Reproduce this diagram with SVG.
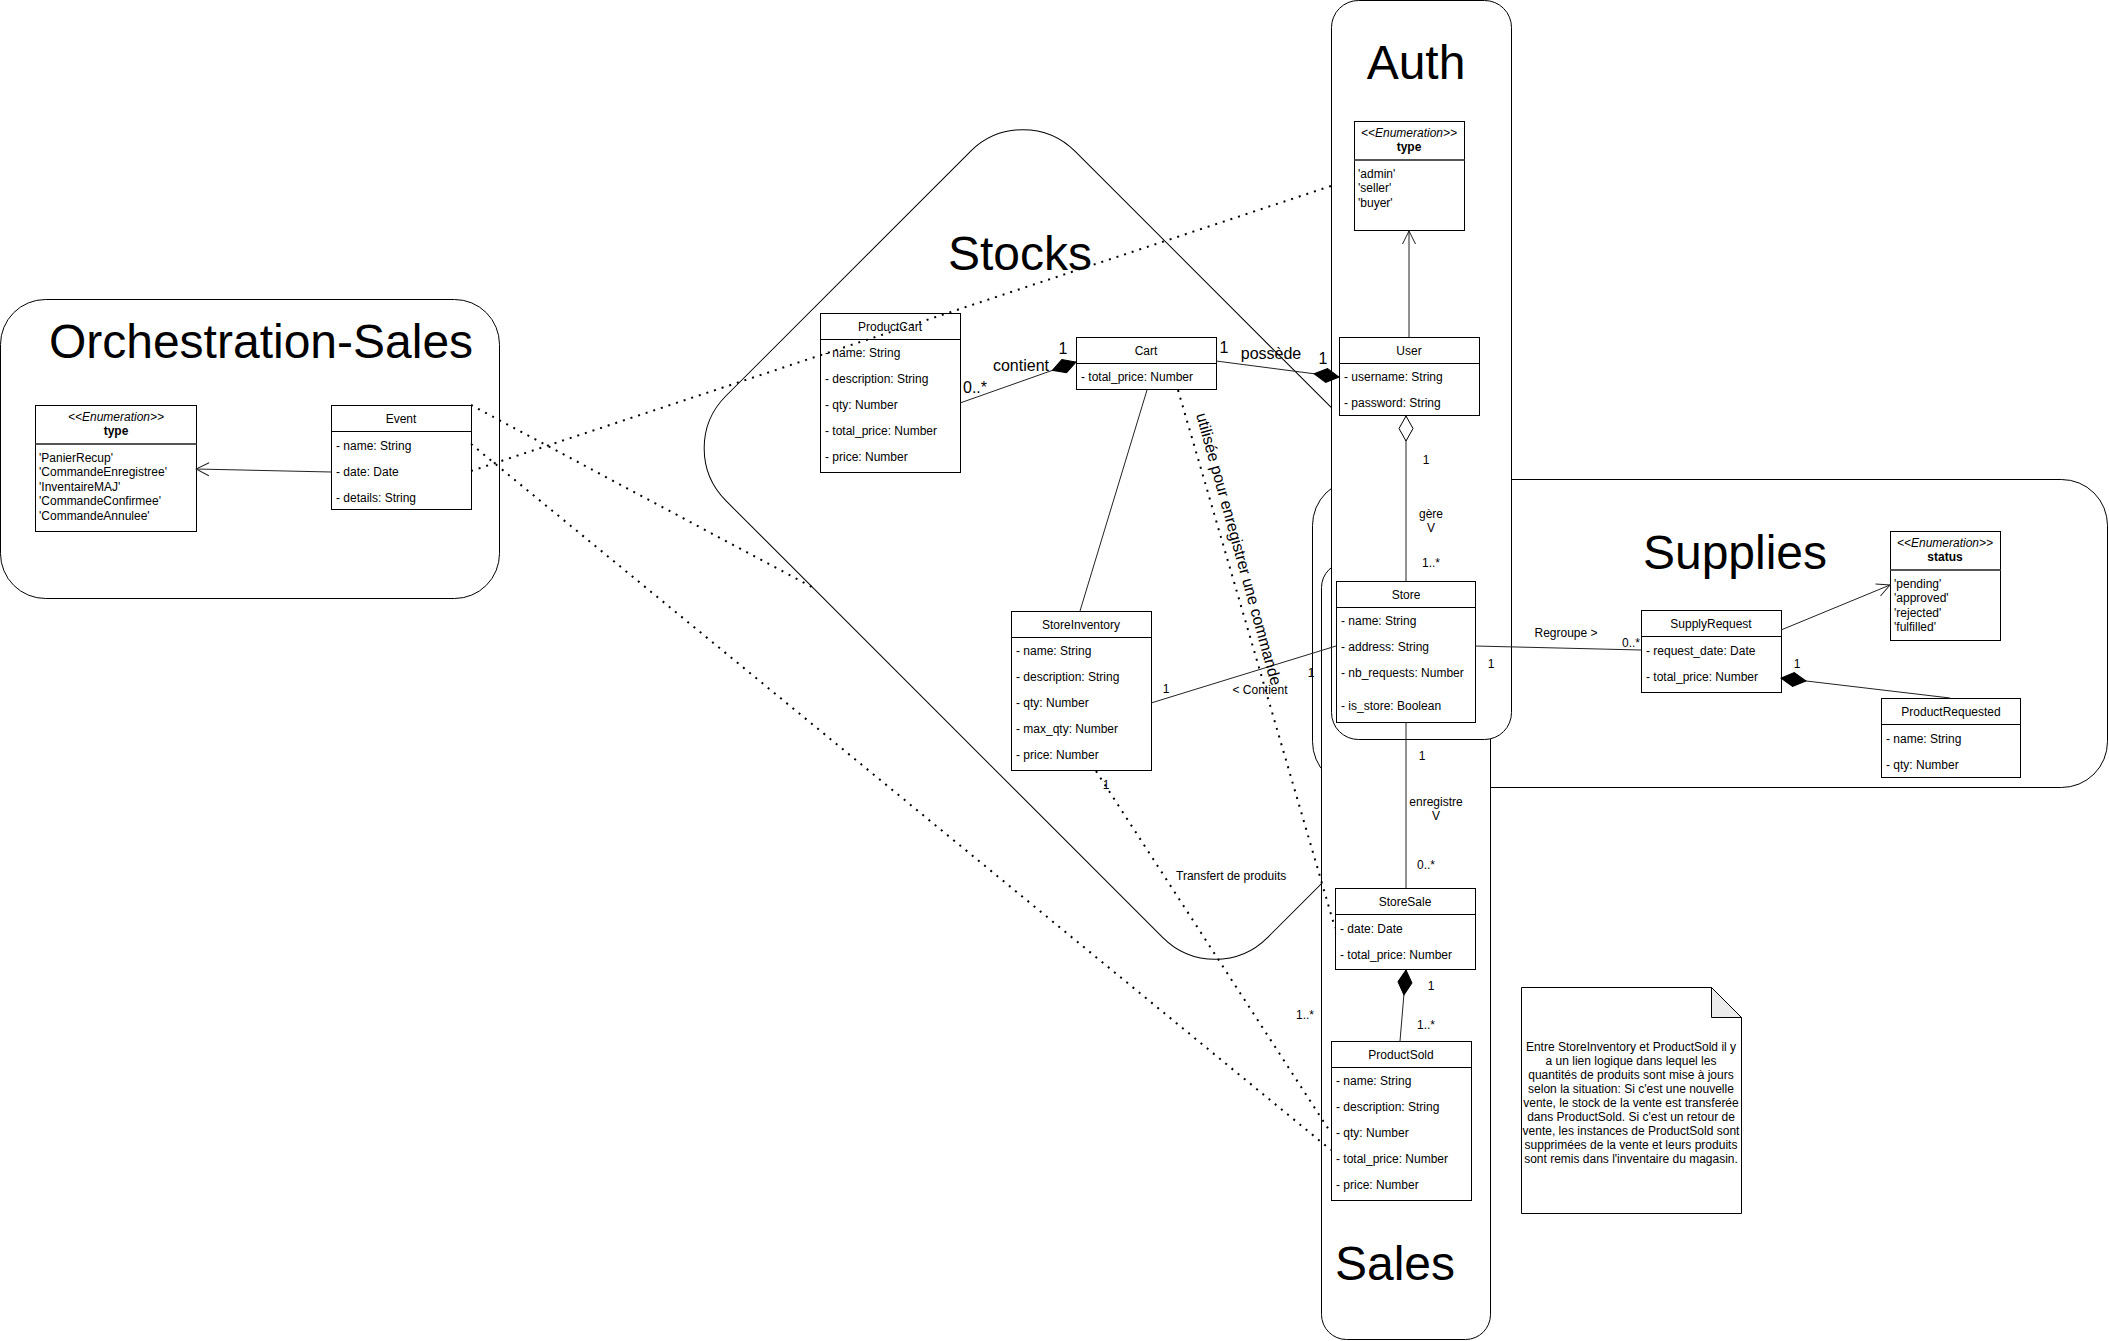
<svg xmlns="http://www.w3.org/2000/svg" width="2109" height="1341" viewBox="0 0 2109 1341">
<style>
text{font-family:"Liberation Sans",Arial,sans-serif;font-size:12px;fill:#000}
.c{text-anchor:middle}
.b{font-weight:bold}
.i{font-style:italic}
.ttl{font-size:48px;text-anchor:middle}
.l16{font-size:16px}
.ctr{fill:#fff;stroke:#000;stroke-width:1}
.box{fill:#fff;stroke:#000;stroke-width:1}
.sep{stroke:#000;stroke-width:1}
.esep{stroke:#555;stroke-width:2}
.e{fill:none;stroke:#222;stroke-width:1}
.d{fill:none;stroke:#000;stroke-width:2;stroke-dasharray:2 6}
</style>
<defs>
<marker id="arrOpen" markerUnits="userSpaceOnUse" markerWidth="16" markerHeight="16" viewBox="0 0 16 16" refX="15" refY="8" orient="auto"><path d="M2,1.5 L15,8 L2,14.5" fill="none" stroke="#222" stroke-width="1"/></marker>
<marker id="diaF" markerUnits="userSpaceOnUse" markerWidth="27" markerHeight="16" viewBox="0 0 27 16" refX="26" refY="8" orient="auto"><path d="M1,8 L13.5,1 L26,8 L13.5,15 Z" fill="#000" stroke="#000" stroke-width="1"/></marker>
<marker id="diaH" markerUnits="userSpaceOnUse" markerWidth="27" markerHeight="16" viewBox="0 0 27 16" refX="26" refY="8" orient="auto"><path d="M1,8 L13.5,1 L26,8 L13.5,15 Z" fill="#fff" stroke="#000" stroke-width="1"/></marker>
</defs>
<rect width="2109" height="1341" fill="#fff"/>

<!-- containers -->
<g id="orchestration-sales">
<rect class="ctr" x="0.5" y="299.5" width="499" height="299" rx="45"/>
<text class="ttl" x="261" y="358">Orchestration-Sales</text>
</g>
<g id="stocks">
<rect class="ctr" x="-383" y="-247" width="766" height="494" rx="74" transform="translate(1119,544.5) rotate(45)"/>
<text class="ttl" x="1020" y="270">Stocks</text>
</g>
<g id="supplies">
<rect class="ctr" x="1312.5" y="479.5" width="795" height="308" rx="46"/>
<text class="ttl" x="1735" y="569">Supplies</text>
</g>
<g id="sales">
<rect class="ctr" x="1321.5" y="562.5" width="169" height="777" rx="25"/>
<text class="ttl" x="1395" y="1280">Sales</text>
</g>
<g id="auth">
<rect class="ctr" x="1331.5" y="0.5" width="180" height="739" rx="27"/>
<text class="ttl" x="1416" y="79">Auth</text>
</g>

<!-- nodes -->
<g id="os-type-enum">
<rect class="box" x="35.5" y="405.5" width="161" height="126"/>
<text class="c i" x="116" y="421">&lt;&lt;Enumeration&gt;&gt;</text>
<text class="c b" x="116" y="435">type</text>
<line class="esep" x1="35.5" y1="444" x2="196.5" y2="444"/>
<text x="39" y="462">'PanierRecup'</text>
<text x="39" y="476.4">'CommandeEnregistree'</text>
<text x="39" y="490.8">'InventaireMAJ'</text>
<text x="39" y="505.2">'CommandeConfirmee'</text>
<text x="39" y="519.6">'CommandeAnnulee'</text>
</g>
<g id="event">
<rect class="box" x="331.5" y="405.5" width="140" height="104"/>
<line class="sep" x1="331.5" y1="431.5" x2="471.5" y2="431.5"/>
<text class="c" x="401" y="422.5">Event</text>
<text x="336" y="449.5">- name: String</text>
<text x="336" y="475.5">- date: Date</text>
<text x="336" y="501.5">- details: String</text>
</g>
<g id="productcart">
<rect class="box" x="820.5" y="313.5" width="140" height="159"/>
<line class="sep" x1="820.5" y1="339.5" x2="960.5" y2="339.5"/>
<text class="c" x="890" y="330.5">ProductCart</text>
<text x="825" y="356.5">- name: String</text>
<text x="825" y="382.5">- description: String</text>
<text x="825" y="408.5">- qty: Number</text>
<text x="825" y="434.5">- total_price: Number</text>
<text x="825" y="460.5">- price: Number</text>
</g>
<g id="cart">
<rect class="box" x="1076.5" y="337.5" width="140" height="52"/>
<line class="sep" x1="1076.5" y1="363.5" x2="1216.5" y2="363.5"/>
<text class="c" x="1146" y="354.5">Cart</text>
<text x="1081" y="380.5">- total_price: Number</text>
</g>
<g id="storeinventory">
<rect class="box" x="1011.5" y="611.5" width="140" height="159"/>
<line class="sep" x1="1011.5" y1="637.5" x2="1151.5" y2="637.5"/>
<text class="c" x="1081" y="628.5">StoreInventory</text>
<text x="1016" y="654.5">- name: String</text>
<text x="1016" y="680.5">- description: String</text>
<text x="1016" y="706.5">- qty: Number</text>
<text x="1016" y="732.5">- max_qty: Number</text>
<text x="1016" y="758.5">- price: Number</text>
</g>
<g id="auth-type-enum">
<rect class="box" x="1354.5" y="121.5" width="110" height="109"/>
<text class="c i" x="1409" y="137">&lt;&lt;Enumeration&gt;&gt;</text>
<text class="c b" x="1409" y="151">type</text>
<line class="esep" x1="1354.5" y1="160" x2="1464.5" y2="160"/>
<text x="1358" y="178">'admin'</text>
<text x="1358" y="192.4">'seller'</text>
<text x="1358" y="206.8">'buyer'</text>
</g>
<g id="user">
<rect class="box" x="1339.5" y="337.5" width="140" height="78"/>
<line class="sep" x1="1339.5" y1="363.5" x2="1479.5" y2="363.5"/>
<text class="c" x="1409" y="354.5">User</text>
<text x="1344" y="380.5">- username: String</text>
<text x="1344" y="406.5">- password: String</text>
</g>
<g id="store">
<rect class="box" x="1336.5" y="581.5" width="139" height="141"/>
<line class="sep" x1="1336.5" y1="607.5" x2="1475.5" y2="607.5"/>
<text class="c" x="1406" y="598.5">Store</text>
<text x="1341" y="624.5">- name: String</text>
<text x="1341" y="650.5">- address: String</text>
<text x="1341" y="676.5">- nb_requests: Number</text>
<text x="1341" y="709.5">- is_store: Boolean</text>
</g>
<g id="supplyrequest">
<rect class="box" x="1641.5" y="610.5" width="140" height="82"/>
<line class="sep" x1="1641.5" y1="636.5" x2="1781.5" y2="636.5"/>
<text class="c" x="1711" y="627.5">SupplyRequest</text>
<text x="1646" y="654.5">- request_date: Date</text>
<text x="1646" y="680.5">- total_price: Number</text>
</g>
<g id="status-enum">
<rect class="box" x="1890.5" y="531.5" width="110" height="109"/>
<text class="c i" x="1945" y="547">&lt;&lt;Enumeration&gt;&gt;</text>
<text class="c b" x="1945" y="561">status</text>
<line class="esep" x1="1890.5" y1="570" x2="2000.5" y2="570"/>
<text x="1894" y="588">'pending'</text>
<text x="1894" y="602.4">'approved'</text>
<text x="1894" y="616.8">'rejected'</text>
<text x="1894" y="631.2">'fulfilled'</text>
</g>
<g id="productrequested">
<rect class="box" x="1881.5" y="698.5" width="139" height="79"/>
<line class="sep" x1="1881.5" y1="724.5" x2="2020.5" y2="724.5"/>
<text class="c" x="1951" y="715.5">ProductRequested</text>
<text x="1886" y="742.5">- name: String</text>
<text x="1886" y="768.5">- qty: Number</text>
</g>
<g id="storesale">
<rect class="box" x="1335.5" y="888.5" width="140" height="81"/>
<line class="sep" x1="1335.5" y1="914.5" x2="1475.5" y2="914.5"/>
<text class="c" x="1405" y="905.5">StoreSale</text>
<text x="1340" y="932.5">- date: Date</text>
<text x="1340" y="958.5">- total_price: Number</text>
</g>
<g id="productsold">
<rect class="box" x="1331.5" y="1041.5" width="140" height="159"/>
<line class="sep" x1="1331.5" y1="1067.5" x2="1471.5" y2="1067.5"/>
<text class="c" x="1401" y="1058.5">ProductSold</text>
<text x="1336" y="1084.5">- name: String</text>
<text x="1336" y="1110.5">- description: String</text>
<text x="1336" y="1136.5">- qty: Number</text>
<text x="1336" y="1162.5">- total_price: Number</text>
<text x="1336" y="1188.5">- price: Number</text>
</g>
<g id="note">
<path d="M1521.5,987.5 H1711.5 L1741.5,1017.5 V1213.5 H1521.5 Z" fill="#fff" stroke="#000"/>
<path d="M1711.5,987.5 V1017.5 H1741.5 Z" fill="#ebebeb" stroke="#000"/>
<text class="c" x="1631" y="1051">Entre StoreInventory et ProductSold il y</text>
<text class="c" x="1631" y="1065">a un lien logique dans lequel les</text>
<text class="c" x="1631" y="1079">quantités de produits sont mise à jours</text>
<text class="c" x="1631" y="1093">selon la situation: Si c'est une nouvelle</text>
<text class="c" x="1631" y="1107">vente, le stock de la vente est transferée</text>
<text class="c" x="1631" y="1121">dans ProductSold. Si c'est un retour de</text>
<text class="c" x="1631" y="1135">vente, les instances de ProductSold sont</text>
<text class="c" x="1631" y="1149">supprimées de la vente et leurs produits</text>
<text class="c" x="1631" y="1163">sont remis dans l'inventaire du magasin.</text>
</g>

<!-- connectors -->
<g id="connectors">
<path class="e" d="M331,472 L196,469" marker-end="url(#arrOpen)"/>
<path class="e" d="M1409,337 L1409,231" marker-end="url(#arrOpen)"/>
<path class="e" d="M960,403 L1076,362" marker-end="url(#diaF)"/>
<path class="e" d="M1216,361 L1339,377" marker-end="url(#diaF)"/>
<path class="e" d="M1147,390 L1080,611"/>
<path class="e" d="M1406,581 L1406,416" marker-end="url(#diaH)"/>
<path class="e" d="M1151,703 L1336,646"/>
<path class="e" d="M1475,646 L1641,650"/>
<path class="e" d="M1781,630 L1890,585" marker-end="url(#arrOpen)"/>
<path class="e" d="M1950,698 L1781,678" marker-end="url(#diaF)"/>
<path class="e" d="M1406,722 L1406,888"/>
<path class="e" d="M1400,1041 L1406,970" marker-end="url(#diaF)"/>
<path class="d" d="M471,405 L812,587"/>
<path class="d" d="M471,471 L1331,186"/>
<path class="d" d="M471,444 L1331,1150"/>
<path class="d" d="M1178,390 L1335,928"/>
<path class="d" d="M1096,771 L1331,1133"/>
<text class="l16 c" x="1021" y="371">contient</text>
<text class="l16 c" x="1063" y="354">1</text>
<text class="l16 c" x="975" y="393">0..*</text>
<text class="l16 c" x="1224" y="353">1</text>
<text class="l16 c" x="1271" y="359">possède</text>
<text class="l16 c" x="1323" y="364">1</text>
<text class="l16 c" x="1239" y="549" dominant-baseline="central" transform="rotate(74.5 1239 549)">utilisée pour enregistrer une commande</text>
<text class="c" x="1260" y="694">&lt; Contient</text>
<text class="c" x="1166" y="693">1</text>
<text class="c" x="1311" y="677">1</text>
<text class="c" x="1426" y="464">1</text>
<text class="c" x="1431" y="518">gère</text>
<text class="c" x="1431" y="532">V</text>
<text class="c" x="1431" y="567">1..*</text>
<text class="c" x="1566" y="637">Regroupe &gt;</text>
<text class="c" x="1631" y="647">0..*</text>
<text class="c" x="1491" y="668">1</text>
<text class="c" x="1797" y="668">1</text>
<text class="c" x="1422" y="760">1</text>
<text class="c" x="1436" y="806">enregistre</text>
<text class="c" x="1436" y="820">V</text>
<text class="c" x="1426" y="869">0..*</text>
<text class="c" x="1431" y="990">1</text>
<text class="c" x="1426" y="1029">1..*</text>
<text class="c" x="1106" y="789">1</text>
<text x="1176" y="880">Transfert de produits</text>
<text class="c" x="1305" y="1019">1..*</text>
</g>
</svg>
